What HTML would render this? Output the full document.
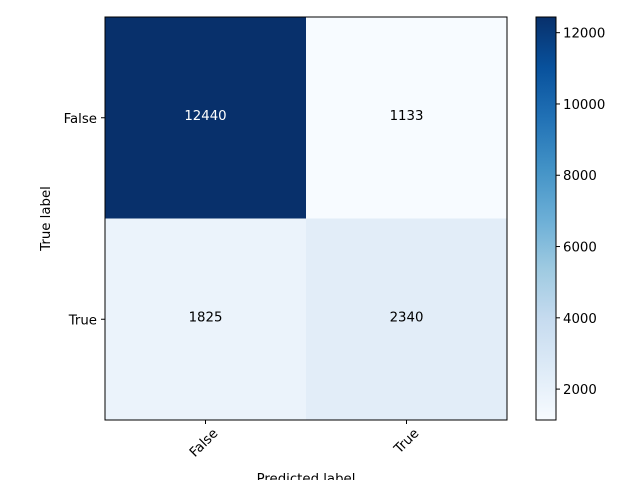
<!DOCTYPE html>
<html><head><meta charset="utf-8"><style>body{margin:0;background:#fff}svg{display:block;font-family:"DejaVu Sans","Liberation Sans",sans-serif}</style></head>
<body>
<svg id="c" width="640" height="480"></svg>
<script>
const classes=["False","True"];
const matrix=[[12440,1133],[1825,2340]];
const cbTicks=[2000,4000,6000,8000,10000,12000];
const NS="http://www.w3.org/2000/svg",svg=document.getElementById('c');
function mk(t,a,p){const e=document.createElementNS(NS,t);for(const k in a)e.setAttribute(k,a[k]);(p||svg).appendChild(e);return e;}
const blues=[[247,251,255],[222,235,247],[198,219,239],[158,202,225],[107,174,214],[66,146,198],[33,113,181],[8,81,156],[8,48,107]];
function cmap(t){t=Math.max(0,Math.min(1,t))*8;const i=Math.min(7,Math.floor(t)),f=t-i,a=blues[i],b=blues[i+1];return`rgb(${a.map((v,j)=>Math.round(v+(b[j]-v)*f)).join(',')})`;}
const flat=matrix.flat(),vmin=Math.min(...flat),vmax=Math.max(...flat);
const L=105,T=17,W=402,H=403,n=classes.length,cw=W/n,ch=H/n,FS=13.3;
const x=i=>L+cw*(i+0.5),y=i=>T+ch*(i+0.5);
const cells=mk('g',{});
matrix.forEach((row,r)=>row.forEach((v,c)=>{
 const t=(v-vmin)/(vmax-vmin);
 const rc=mk('rect',{x:L+cw*c,y:T+ch*r,width:cw+0.5,height:ch+0.5,fill:cmap(t)},cells);
 
 
 const tx=mk('text',{x:x(c),y:y(r)+2,'text-anchor':'middle','font-size':FS,fill:v>(vmax+vmin)/2?'#fff':'#000'},cells);tx.textContent=v;
 
 
}));
const fr=mk('rect',{x:L,y:T,width:W,height:H,fill:'none',stroke:'#000','stroke-width':1});


classes.forEach((c,i)=>{
 mk('line',{x1:x(i),x2:x(i),y1:T+H,y2:T+H+4,stroke:'#000'});
 const tx=mk('text',{x:0,y:0,'text-anchor':'end','font-size':FS,transform:`translate(${x(i)+13},${T+H+14}) rotate(-45)`});tx.textContent=c;
 
 
 mk('line',{x1:L-4,x2:L,y1:y(i),y2:y(i),stroke:'#000'});
 const ty=mk('text',{x:L-8,y:y(i)+5,'text-anchor':'end','font-size':FS});ty.textContent=c;
 
 
});
const xt=mk('text',{x:L+W/2,y:483,'text-anchor':'middle','font-size':FS});xt.textContent='Predicted label';


const yt=mk('text',{x:0,y:0,'text-anchor':'middle','font-size':FS,transform:`translate(50,${T+H/2}) rotate(-90)`});yt.textContent='True label';


const CL=536,CW=20,defs=mk('defs',{}),g=mk('linearGradient',{id:'gr',x1:0,y1:1,x2:0,y2:0},defs);
blues.forEach((b,i)=>mk('stop',{offset:i/8,'stop-color':`rgb(${b.join(',')})`},g));
const cb=mk('rect',{x:CL,y:T,width:CW,height:H,fill:'url(#gr)',stroke:'#000'});


const cy=v=>T+H-(v-vmin)/(vmax-vmin)*H;
cbTicks.forEach(v=>{
 mk('line',{x1:CL+CW,x2:CL+CW+4,y1:cy(v),y2:cy(v),stroke:'#000'});
 const t=mk('text',{x:CL+CW+7,y:cy(v)+5,'font-size':FS});t.textContent=v;
 
 
});
</script>
</body></html>
